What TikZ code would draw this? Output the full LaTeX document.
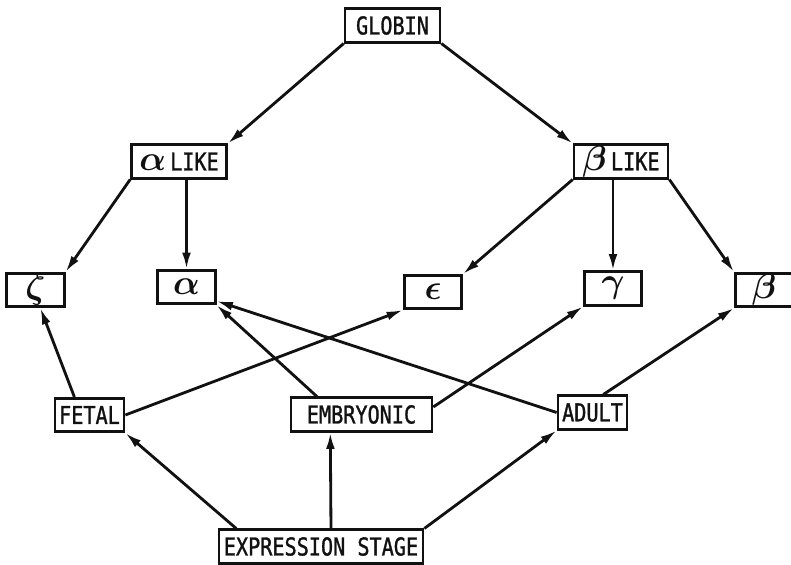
\documentclass[tikz,border=0pt]{standalone}
\usepackage{fix-cm}
\usepackage{bm}
\usepackage{fontspec}
\usepackage{tikz}
\usetikzlibrary{arrows.meta,positioning,calc}
\usepackage{xcolor}
\newfontfamily\plotfont[FakeStretch=0.82,FakeBold=1.2]{DejaVu Sans Mono}
\definecolor{gInk}{HTML}{111111}
\tikzset{
  gbox/.style={draw=gInk, line width=2.3pt, fill=white, inner sep=0pt, minimum height=1cm, font=\plotfont\fontsize{21}{24}\selectfont, text=gInk},
  gsym/.style={gbox, minimum width=1.72cm, font=\fontsize{30}{34}\selectfont},
  garr/.style={-{Latex[length=14pt,width=7.5pt]}, line width=2.4pt, draw=gInk},
}
\newcommand{\bigsym}[1]{{\fontsize{30}{34}\selectfont$\bm{#1}$}}

\begin{document}
\begin{tikzpicture}[x=0.03cm, y=-0.03cm]
            \useasboundingbox (0,0) rectangle (791,565);
            \node[gbox, minimum width=2.85cm] (glob) at (392.5,25.5) {GLOBIN};
            \node[gbox, minimum width=2.85cm] (alike) at (179,161.5) {\bigsym{\alpha}\,LIKE};
            \node[gbox, minimum width=2.82cm] (blike) at (621,161.5) {\bigsym{\beta}\,LIKE};
            \node[gsym] (zeta) at (35.5,290) {$\bm{\zeta}$};
            \node[gsym] (alpha) at (186.5,287) {$\bm{\alpha}$};
            \node[gsym] (eps) at (433,292) {$\bm{\epsilon}$};
            \node[gsym] (gam) at (613,288.5) {$\bm{\gamma}$};
            \node[gsym] (beta) at (764,290) {$\bm{\beta}$};
            \node[gbox, minimum width=2.07cm] (fetal) at (89.5,415) {FETAL};
            \node[gbox, minimum width=4.23cm] (emb) at (361.5,414.5) {EMBRYONIC};
            \node[gbox, minimum width=2.07cm] (adult) at (592.5,412.5) {ADULT};
            \node[gbox, minimum width=6.12cm] (exp) at (321,546.5) {EXPRESSION STAGE};
            % globin families
            \draw[garr] (glob.south west) -- (alike.north east); \draw[garr] (glob.south east) -- (blike.north west);
            \draw[garr] (alike.south west) -- (zeta.north east); \draw[garr] (alpha.north |- alike.south) -- (alpha.north);
            \draw[garr] (blike.south west) -- (eps.north east); \draw[garr] (gam.north |- blike.south) -- (gam.north);
            \draw[garr] (blike.south east) -- (beta.north west);
            % stages
            \draw[garr] (fetal.130) -- (zeta.-75); \draw[garr] (fetal.east) -- (eps.south west);
            \draw[garr] (emb.158) -- (alpha.south east); \draw[garr] (emb.6) -- (gam.south west);
            \draw[garr] (adult.west) -- (alpha.-25); \draw[garr] (adult.59) -- (beta.south west);
            \draw[garr] (exp.168) -- (fetal.south east); \draw[garr] (exp.61) -- (emb.-150);
            \draw[garr] (exp.north east) -- (adult.south west);
        \end{tikzpicture}
\end{document}
